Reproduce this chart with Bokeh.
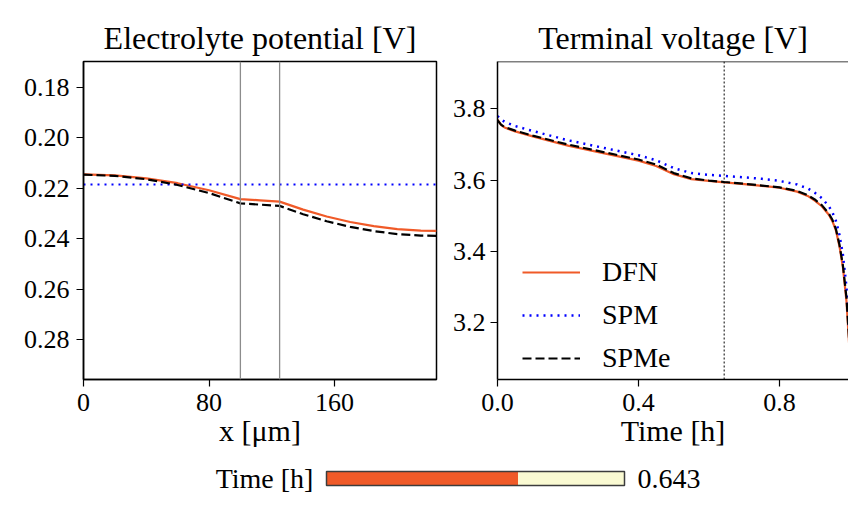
from bokeh.plotting import figure
from bokeh.layouts import column, row
from bokeh.models import (Range1d, FixedTicker, Span, Legend, LegendItem,
                          PrintfTickFormatter)
from bokeh.core.properties import value
from bokeh.embed import file_html
from bokeh.resources import INLINE

# ---------------- data ----------------
# Electrolyte potential across the cell at t = 0.643 h
x_um = [0, 20, 40, 60, 80, 100, 112.5, 125, 140, 155, 170, 185, 200, 215, 225]
phi_dfn = [0.2145, 0.2149, 0.2161, 0.2180, 0.2208, 0.2243, 0.2248, 0.2253,
           0.2285, 0.2312, 0.2334, 0.2350, 0.2362, 0.2368, 0.2369]
phi_spme = [0.2146, 0.2151, 0.2164, 0.2187, 0.2219, 0.2260, 0.2265, 0.2270,
            0.2303, 0.2331, 0.2353, 0.2370, 0.2382, 0.2388, 0.2389]
x_spm = [0, 225]
phi_spm = [0.2185, 0.2185]
boundaries_um = [100, 125]

# Terminal voltage
t_h = [0.0, 0.01, 0.02, 0.05, 0.1, 0.2, 0.3, 0.4, 0.45, 0.5, 0.55, 0.6, 0.643,
       0.7, 0.75, 0.8, 0.85, 0.88, 0.9, 0.92, 0.94, 0.95, 0.96, 0.97, 0.98,
       0.99, 1.0]
v_dfn = [3.770, 3.755, 3.748, 3.737, 3.723, 3.697, 3.676, 3.655, 3.640, 3.617,
         3.603, 3.598, 3.594, 3.589, 3.584, 3.579, 3.568, 3.556, 3.543, 3.527,
         3.503, 3.485, 3.459, 3.415, 3.355, 3.26, 3.10]
v_spm = [3.780, 3.770, 3.764, 3.752, 3.738, 3.712, 3.691, 3.670, 3.656, 3.634,
         3.620, 3.615, 3.612, 3.608, 3.604, 3.598, 3.588, 3.577, 3.565, 3.550,
         3.527, 3.510, 3.486, 3.447, 3.390, 3.30, 3.15]
v_spme = [3.768, 3.756, 3.749, 3.739, 3.725, 3.700, 3.679, 3.658, 3.644, 3.620,
          3.605, 3.599, 3.595, 3.590, 3.585, 3.580, 3.570, 3.558, 3.546, 3.530,
          3.506, 3.489, 3.463, 3.420, 3.360, 3.27, 3.11]

model_names = ["DFN", "SPM", "SPMe"]
time_now = 0.643
t_min, t_max = 0.0, 1.0

left_xticks = [0, 80, 160]
left_yticks = [0.18, 0.20, 0.22, 0.24, 0.26, 0.28]
right_xticks = [0.0, 0.4, 0.8]
right_yticks = [3.2, 3.4, 3.6, 3.8]

# ---------------- style ----------------
FONT = "Liberation Serif"
ORANGE = "#F05A28"
BLUE = "#0000FF"
BLACK = "#000000"


def style(p):
    p.grid.visible = False
    p.background_fill_color = "white"
    p.border_fill_color = "white"
    for ax in p.axis:
        ax.axis_line_width = 1.5
        ax.axis_line_color = "black"
        ax.major_tick_out = 7
        ax.major_tick_in = 0
        ax.major_tick_line_width = 1.2
        ax.minor_tick_line_color = None
        ax.major_label_text_font = FONT
        ax.major_label_text_font_size = "26px"
        ax.major_label_text_color = "black"
        ax.axis_label_text_font = FONT
        ax.axis_label_text_font_style = "normal"
        ax.axis_label_text_font_size = "30px"
        ax.axis_label_text_color = "black"
        ax.axis_label_standoff = 0
    p.xaxis.major_label_standoff = 7
    p.title.text_font = FONT
    p.title.text_font_size = "32px"
    p.title.text_font_style = "normal"
    p.title.text_color = "black"
    p.title.align = "center"
    p.title.standoff = 12


# ---------------- left panel ----------------
p1 = figure(width=446, height=459, output_backend="svg", toolbar_location=None,
            x_range=Range1d(0, 225), y_range=Range1d(0.2959, 0.1697),
            min_border_left=83, min_border_right=10, min_border_top=61,
            min_border_bottom=80, title="Electrolyte potential [V]",
            x_axis_label="x [μm]")
p1.outline_line_color = "black"
p1.outline_line_width = 1.5
p1.xaxis.ticker = FixedTicker(ticks=left_xticks)
p1.yaxis.ticker = FixedTicker(ticks=left_yticks)
p1.yaxis.formatter = PrintfTickFormatter(format="%.2f")
p1.yaxis.major_label_standoff = 7
for b in boundaries_um:
    p1.add_layout(Span(location=b, dimension="height", line_color="#8c8c8c",
                       line_width=1.3))
p1.line(x_um, phi_dfn, line_color=ORANGE, line_width=2.2)
p1.line(x_spm, phi_spm, line_color=BLUE, line_width=2, line_dash="2 5")
p1.line(x_um, phi_spme, line_color=BLACK, line_width=2.2, line_dash="9 4")
style(p1)

# ---------------- right panel ----------------
v_top = 3.933
p2 = figure(width=402, height=459, output_backend="svg", toolbar_location=None,
            x_range=Range1d(0, 0.9957), y_range=Range1d(3.041, v_top),
            min_border_left=51, min_border_right=0, min_border_top=61,
            min_border_bottom=80, title="Terminal voltage [V]",
            x_axis_label="Time [h]")
p2.outline_line_color = None
p2.xaxis.ticker = FixedTicker(ticks=right_xticks)
p2.yaxis.ticker = FixedTicker(ticks=right_yticks)
p2.xaxis.formatter = PrintfTickFormatter(format="%.1f")
p2.yaxis.formatter = PrintfTickFormatter(format="%.1f")
p2.yaxis.major_label_standoff = 5
p2.add_layout(Span(location=v_top, dimension="width", line_color="black",
                   line_width=1.5))
p2.add_layout(Span(location=time_now, dimension="height", line_color="black",
                   line_width=1, line_dash="2 2"))
r_dfn = p2.line(t_h, v_dfn, line_color=ORANGE, line_width=2.2)
r_spm = p2.line(t_h, v_spm, line_color=BLUE, line_width=2.5, line_dash="2 5")
r_spme = p2.line(t_h, v_spme, line_color=BLACK, line_width=2.2, line_dash="9 4")
style(p2)

legend = Legend(items=[LegendItem(label=model_names[0], renderers=[r_dfn]),
                       LegendItem(label=model_names[1], renderers=[r_spm]),
                       LegendItem(label=model_names[2], renderers=[r_spme])],
                location=(25, 3), border_line_color=None,
                background_fill_alpha=0, padding=0, margin=0, spacing=7,
                glyph_width=58, glyph_height=36, label_height=36,
                label_standoff=22, label_text_font=FONT,
                label_text_font_size="28px", label_text_color="black")
p2.add_layout(legend)

# ---------------- slider ----------------
p3 = figure(width=848, height=40, output_backend="svg", toolbar_location=None,
            x_range=Range1d(-1.0940, 1.7517), y_range=Range1d(0, 40),
            min_border=0, x_axis_type=None, y_axis_type=None)
p3.outline_line_color = None
p3.grid.visible = False
p3.background_fill_color = "white"
p3.border_fill_color = "white"
p3.quad(left=[t_min], right=[time_now], bottom=[14], top=[28],
        fill_color=ORANGE, line_color=None)
p3.quad(left=[time_now], right=[t_max], bottom=[14], top=[28],
        fill_color="#FAFAD2", line_color=None)
p3.quad(left=[t_min], right=[t_max], bottom=[14], top=[28],
        fill_color=None, line_color="#3c3c3c", line_width=1.5)
p3.text(x=[t_min - 0.044], y=[21], text=["Time [h]"], text_align="right",
        text_baseline="middle", text_font=value(FONT), text_font_size="28px",
        text_color="black")
p3.text(x=[t_max + 0.0436], y=[21], text=[f"{time_now:.3f}"], text_align="left",
        text_baseline="middle", text_font=value(FONT), text_font_size="28px",
        text_color="black")

layout = column(row(p1, p2), p3)
open("out.html", "w").write(file_html(layout, INLINE))
